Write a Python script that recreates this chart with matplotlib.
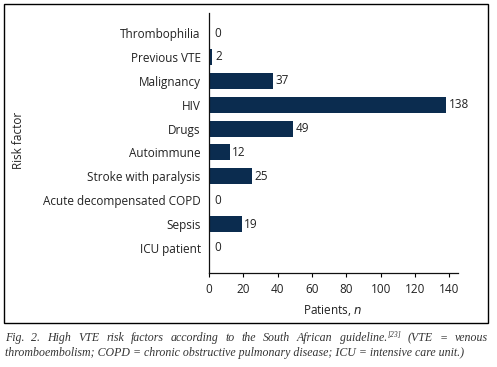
import matplotlib
matplotlib.use("Agg")
import matplotlib.pyplot as plt
from matplotlib.patches import Rectangle

categories = ["Thrombophilia", "Previous VTE", "Malignancy", "HIV", "Drugs",
              "Autoimmune", "Stroke with paralysis", "Acute decompensated COPD",
              "Sepsis", "ICU patient"]
values = [0, 2, 37, 138, 49, 12, 25, 0, 19, 0]
xticks = [0, 20, 40, 60, 80, 100, 120, 140]

plt.rcParams['font.family'] = ['Open Sans', 'DejaVu Sans']
W, H = 497, 367
fig = plt.figure(figsize=(W/100, H/100), dpi=100)

def fx(px): return px / W
def fy(py): return 1 - py / H

ax = fig.add_axes([fx(209), fy(273), fx(458) - fx(209), fy(13) - fy(273)])
color = "#0b2c4f"
ypos = list(range(len(categories)))
ax.barh(ypos, values, height=0.67, color=color)
for y, v in zip(ypos, values):
    off = 3.0 if v == 0 else 1.6
    ax.text(v + off, y, str(v), va='center', ha='left', fontsize=8.5, color='#222222')
ax.set_xlim(0, 145)
ax.set_ylim(len(categories) - 1 + 1.05, -0.84)
ax.set_yticks(ypos)
ax.set_yticklabels(categories, fontsize=8.5, color='#222222')
ax.tick_params(axis='y', length=0, pad=6)
ax.set_xticks(xticks)
ax.tick_params(axis='x', length=3, width=0.8, labelsize=8.5, labelcolor='#222222', pad=4)
for s in ['top', 'right']:
    ax.spines[s].set_visible(False)
for s in ['left', 'bottom']:
    ax.spines[s].set_linewidth(0.9)
    ax.spines[s].set_color('#111111')

fig.text(fx(333), fy(311), r"Patients, $\it{n}$", ha='center', va='center', fontsize=8.5, color='#222222')
fig.text(fx(18), fy(140), "Risk factor", rotation=90, ha='center', va='center', fontsize=8.5, color='#222222')

fig.patches.append(Rectangle((fx(4), fy(323)), fx(488) - fx(4), fy(4) - fy(323),
                             transform=fig.transFigure, fill=False, edgecolor='black', linewidth=1.0))

# Justified caption line 1
cap_kw = dict(fontsize=8.6, style='italic', family='Liberation Serif', color='#333333', va='baseline')
words1 = ["Fig.", "2.", "High", "VTE", "risk", "factors", "according", "to", "the", "South",
          "African", "guideline.", "(VTE", "=", "venous"]
sup_after = "guideline."
renderer = fig.canvas.get_renderer()
base1 = fy(341)
x_left, x_right = 5, 488
tmp = []
for w in words1:
    t = fig.text(0, base1, w, **cap_kw)
    tmp.append(t)
widths = [t.get_window_extent(renderer).width for t in tmp]
sup = fig.text(0, base1, "[23]", fontsize=5.5, style='italic', family='Liberation Serif',
               color='#333333', va='baseline')
sup_w = sup.get_window_extent(renderer).width
idx_sup = words1.index(sup_after)
total = sum(widths) + sup_w + 0.5
gap = (x_right - x_left - total) / (len(words1) - 1)
x = x_left
for i, (t, w) in enumerate(zip(tmp, widths)):
    t.set_x(fx(x))
    x += w
    if i == idx_sup:
        sup.set_x(fx(x + 0.5))
        sup.set_y(base1 + 3.5 / H)
        x += sup_w + 0.5
    x += gap

cap2 = "thromboembolism; COPD = chronic obstructive pulmonary disease; ICU = intensive care unit.)"
fig.text(fx(5), fy(356), cap2, ha='left', **cap_kw)

fig.savefig("out.png", dpi=100)
